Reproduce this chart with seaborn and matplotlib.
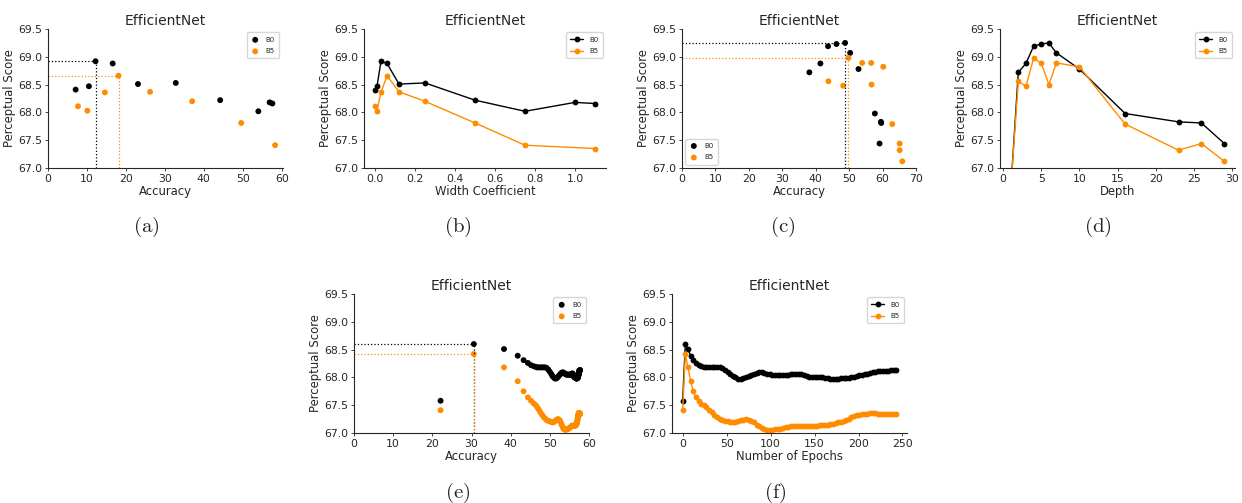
import matplotlib
matplotlib.use('Agg')
import matplotlib.pyplot as plt
import numpy as np
import seaborn as sns

sns.set_style('ticks')
plt.rcParams['font.family'] = ['DejaVu Sans']
plt.rcParams['mathtext.fontset'] = 'cm'

B0_COLOR = 'black'
B5_COLOR = 'darkorange'

# (a) accuracy vs perceptual score, width variants
acc_a_b0 = [7.1, 10.5, 12.2, 16.6, 23.1, 32.8, 44.2, 54.0, 56.9, 57.6]
score_a_b0 = [68.41, 68.47, 68.92, 68.88, 68.51, 68.53, 68.22, 68.02, 68.18, 68.16]
acc_a_b5 = [7.7, 10.1, 14.6, 18.1, 26.2, 37.0, 49.6, 58.3]
score_a_b5 = [68.11, 68.03, 68.36, 68.66, 68.37, 68.20, 67.81, 67.41]

# (b) width coefficient
width_b0 = [0.0, 0.01, 0.03, 0.06, 0.12, 0.25, 0.5, 0.75, 1.0, 1.1]
score_b_b0 = [68.41, 68.47, 68.92, 68.88, 68.51, 68.53, 68.22, 68.02, 68.18, 68.16]
width_b5 = [0.0, 0.01, 0.03, 0.06, 0.12, 0.25, 0.5, 0.75, 1.1]
score_b_b5 = [68.12, 68.03, 68.36, 68.66, 68.37, 68.20, 67.81, 67.41, 67.35]

# (c) accuracy vs perceptual score, depth variants
acc_c_b0 = [38.1, 41.4, 43.7, 46.2, 48.8, 50.3, 52.8, 57.7, 59.5, 59.6, 59.1]
score_c_b0 = [68.72, 68.88, 69.19, 69.23, 69.25, 69.07, 68.78, 67.98, 67.83, 67.81, 67.44]
acc_c_b5 = [43.8, 48.2, 49.8, 53.9, 56.7, 56.6, 60.2, 62.9, 65.1, 65.1, 65.9]
score_c_b5 = [68.56, 68.48, 68.98, 68.89, 68.50, 68.89, 68.82, 67.79, 67.44, 67.32, 67.12]

# (d) depth
depth = [1, 2, 3, 4, 5, 6, 7, 10, 16, 23, 26, 29]
score_d_b0 = [66.6, 68.72, 68.88, 69.19, 69.23, 69.25, 69.07, 68.78, 67.98, 67.83, 67.81, 67.44]
score_d_b5 = [66.6, 68.56, 68.47, 68.97, 68.89, 68.50, 68.89, 68.82, 67.79, 67.32, 67.44, 67.12]

# (e)/(f) training epochs
epochs = [0, 3, 6, 9, 12, 15, 18, 21, 24, 27, 30, 33, 36, 39, 42, 45, 48, 51, 54, 57,
          60, 63, 66, 69, 72, 75, 78, 81, 84, 87, 90, 93, 96, 99, 102, 105, 108, 111,
          114, 117, 120, 123, 126, 129, 132, 135, 138, 141, 144, 147, 150, 153, 156,
          159, 162, 165, 168, 171, 174, 177, 180, 183, 186, 189, 192, 195, 198, 201,
          204, 207, 210, 213, 216, 219, 222, 225, 228, 231, 234, 237, 240, 243]
acc_epoch = [22.1, 30.6, 38.3, 41.8, 43.3, 44.4, 45.2, 45.9, 46.4, 46.8, 47.2, 47.6,
             48.0, 48.4, 48.8, 49.2, 49.6, 50.0, 50.4, 50.7, 51.0, 51.3, 51.6, 51.8,
             52.1, 52.3, 52.6, 52.8, 53.0, 53.2, 53.4, 53.6, 53.8, 54.0, 54.2, 54.4,
             54.6, 54.8, 55.0, 55.2, 55.4, 55.5, 55.6, 55.7, 55.8, 55.9, 56.0, 56.1,
             56.2, 56.3, 56.4, 56.5, 56.5, 56.6, 56.7, 56.7, 56.8, 56.8, 56.9, 56.9,
             57.0, 57.0, 57.1, 57.1, 57.2, 57.2, 57.3, 57.3, 57.3, 57.4, 57.4, 57.4,
             57.5, 57.5, 57.5, 57.5, 57.6, 57.6, 57.6, 57.7, 57.7, 57.7]
score_ep_b0 = [67.58, 68.60, 68.51, 68.39, 68.31, 68.26, 68.22, 68.20, 68.19, 68.18,
               68.18, 68.18, 68.18, 68.18, 68.18, 68.17, 68.14, 68.10, 68.06, 68.02,
               68.00, 67.98, 67.98, 67.99, 68.01, 68.03, 68.05, 68.07, 68.08, 68.09,
               68.09, 68.08, 68.07, 68.06, 68.05, 68.05, 68.05, 68.05, 68.05, 68.05,
               68.05, 68.06, 68.06, 68.07, 68.07, 68.06, 68.04, 68.02, 68.01, 68.00,
               68.00, 68.00, 68.00, 68.00, 67.99, 67.99, 67.98, 67.98, 67.98, 67.98,
               67.99, 67.99, 67.99, 67.99, 68.00, 68.01, 68.03, 68.04, 68.05, 68.06,
               68.07, 68.08, 68.09, 68.10, 68.11, 68.12, 68.12, 68.12, 68.12, 68.13,
               68.13, 68.13]
score_ep_b5 = [67.41, 68.42, 68.18, 67.93, 67.75, 67.64, 67.58, 67.53, 67.50, 67.46,
               67.42, 67.37, 67.33, 67.29, 67.26, 67.23, 67.22, 67.21, 67.20, 67.19,
               67.20, 67.21, 67.23, 67.24, 67.25, 67.24, 67.22, 67.19, 67.15, 67.12,
               67.09, 67.07, 67.06, 67.06, 67.06, 67.07, 67.07, 67.08, 67.09, 67.10,
               67.11, 67.12, 67.13, 67.13, 67.13, 67.13, 67.13, 67.13, 67.13, 67.13,
               67.13, 67.13, 67.14, 67.14, 67.15, 67.15, 67.16, 67.17, 67.18, 67.19,
               67.20, 67.22, 67.24, 67.26, 67.28, 67.30, 67.32, 67.33, 67.34, 67.35,
               67.35, 67.36, 67.36, 67.36, 67.35, 67.34, 67.34, 67.34, 67.34, 67.35,
               67.35, 67.35]

fig = plt.figure(figsize=(12.42, 5.03), dpi=100)


def px_axes(left, right, top, bottom):
    return fig.add_axes([left / 1242, 1 - bottom / 503, (right - left) / 1242, (bottom - top) / 503])


def dots(ax, x, y, color, label):
    sns.scatterplot(x=x, y=y, color=color, s=18, edgecolor='none', label=label, ax=ax)


def line(ax, x, y, color, label):
    sns.lineplot(x=x, y=y, color=color, marker='o', markersize=4.2, markeredgecolor=color,
                 markeredgewidth=0, linewidth=1.0, label=label, ax=ax)


def guide(ax, x, y, color):
    i = int(np.argmax(y))
    ax.hlines(y[i], 0, x[i], colors=color, linestyles=':', linewidth=0.9)
    ax.vlines(x[i], 67, y[i], colors=color, linestyles=':', linewidth=0.9)


def finish(ax, xlabel, loc='upper right'):
    ax.set_ylim(67, 69.5)
    ax.set_yticks([67.0, 67.5, 68.0, 68.5, 69.0, 69.5])
    ax.set_title('EfficientNet', fontsize=10, pad=3)
    ax.set_xlabel(xlabel, fontsize=8.4, labelpad=1)
    ax.set_ylabel('Perceptual Score', fontsize=8.4, labelpad=2)
    ax.tick_params(labelsize=7.8, length=2.5, width=0.6, pad=1.5)
    for s in ['left', 'bottom']:
        ax.spines[s].set_linewidth(0.8)
    sns.despine(ax=ax)
    ax.legend(loc=loc, fontsize=5, frameon=True, borderpad=0.6, handletextpad=0.9,
              labelspacing=0.8, handlelength=1.8 if ax.get_lines() and loc == 'upper right' else 1.2)


# (a)
ax = px_axes(48, 282.5, 29, 168)
dots(ax, acc_a_b0, score_a_b0, B0_COLOR, 'B0')
dots(ax, acc_a_b5, score_a_b5, B5_COLOR, 'B5')
guide(ax, acc_a_b0, score_a_b0, B0_COLOR)
guide(ax, acc_a_b5, score_a_b5, B5_COLOR)
ax.set_xlim(0, 60.2)
finish(ax, 'Accuracy')

# (b)
ax = px_axes(364, 606, 29, 168)
line(ax, width_b0, score_b_b0, B0_COLOR, 'B0')
line(ax, width_b5, score_b_b5, B5_COLOR, 'B5')
finish(ax, 'Width Coefficient')

# (c)
ax = px_axes(682, 916, 29, 168)
dots(ax, acc_c_b0, score_c_b0, B0_COLOR, 'B0')
dots(ax, acc_c_b5, score_c_b5, B5_COLOR, 'B5')
guide(ax, acc_c_b0, score_c_b0, B0_COLOR)
guide(ax, acc_c_b5, score_c_b5, B5_COLOR)
ax.set_xlim(0, 70)
finish(ax, 'Accuracy', loc='lower left')

# (d)
ax = px_axes(1000, 1235, 29, 168)
line(ax, depth, score_d_b0, B0_COLOR, 'B0')
line(ax, depth, score_d_b5, B5_COLOR, 'B5')
finish(ax, 'Depth')

# (e)
ax = px_axes(354, 589, 294, 433)
dots(ax, acc_epoch, score_ep_b0, B0_COLOR, 'B0')
dots(ax, acc_epoch, score_ep_b5, B5_COLOR, 'B5')
guide(ax, acc_epoch, score_ep_b0, B0_COLOR)
guide(ax, acc_epoch, score_ep_b5, B5_COLOR)
ax.set_xlim(0, 60)
finish(ax, 'Accuracy')

# (f)
ax = px_axes(672, 907, 294, 433)
line(ax, epochs, score_ep_b0, B0_COLOR, 'B0')
line(ax, epochs, score_ep_b5, B5_COLOR, 'B5')
finish(ax, 'Number of Epochs')

captions = ['(a)', '(b)', '(c)', '(d)', '(e)', '(f)']
cap_xy = [(146, 227), (458, 227), (783, 227), (1098, 227), (458, 493), (775, 493)]
for text, (cx, cy) in zip(captions, cap_xy):
    fig.text(cx / 1242, 1 - cy / 503, r'$\mathrm{' + text + '}$', fontsize=15,
             ha='center', va='center')

fig.savefig('out.png', dpi=100)
